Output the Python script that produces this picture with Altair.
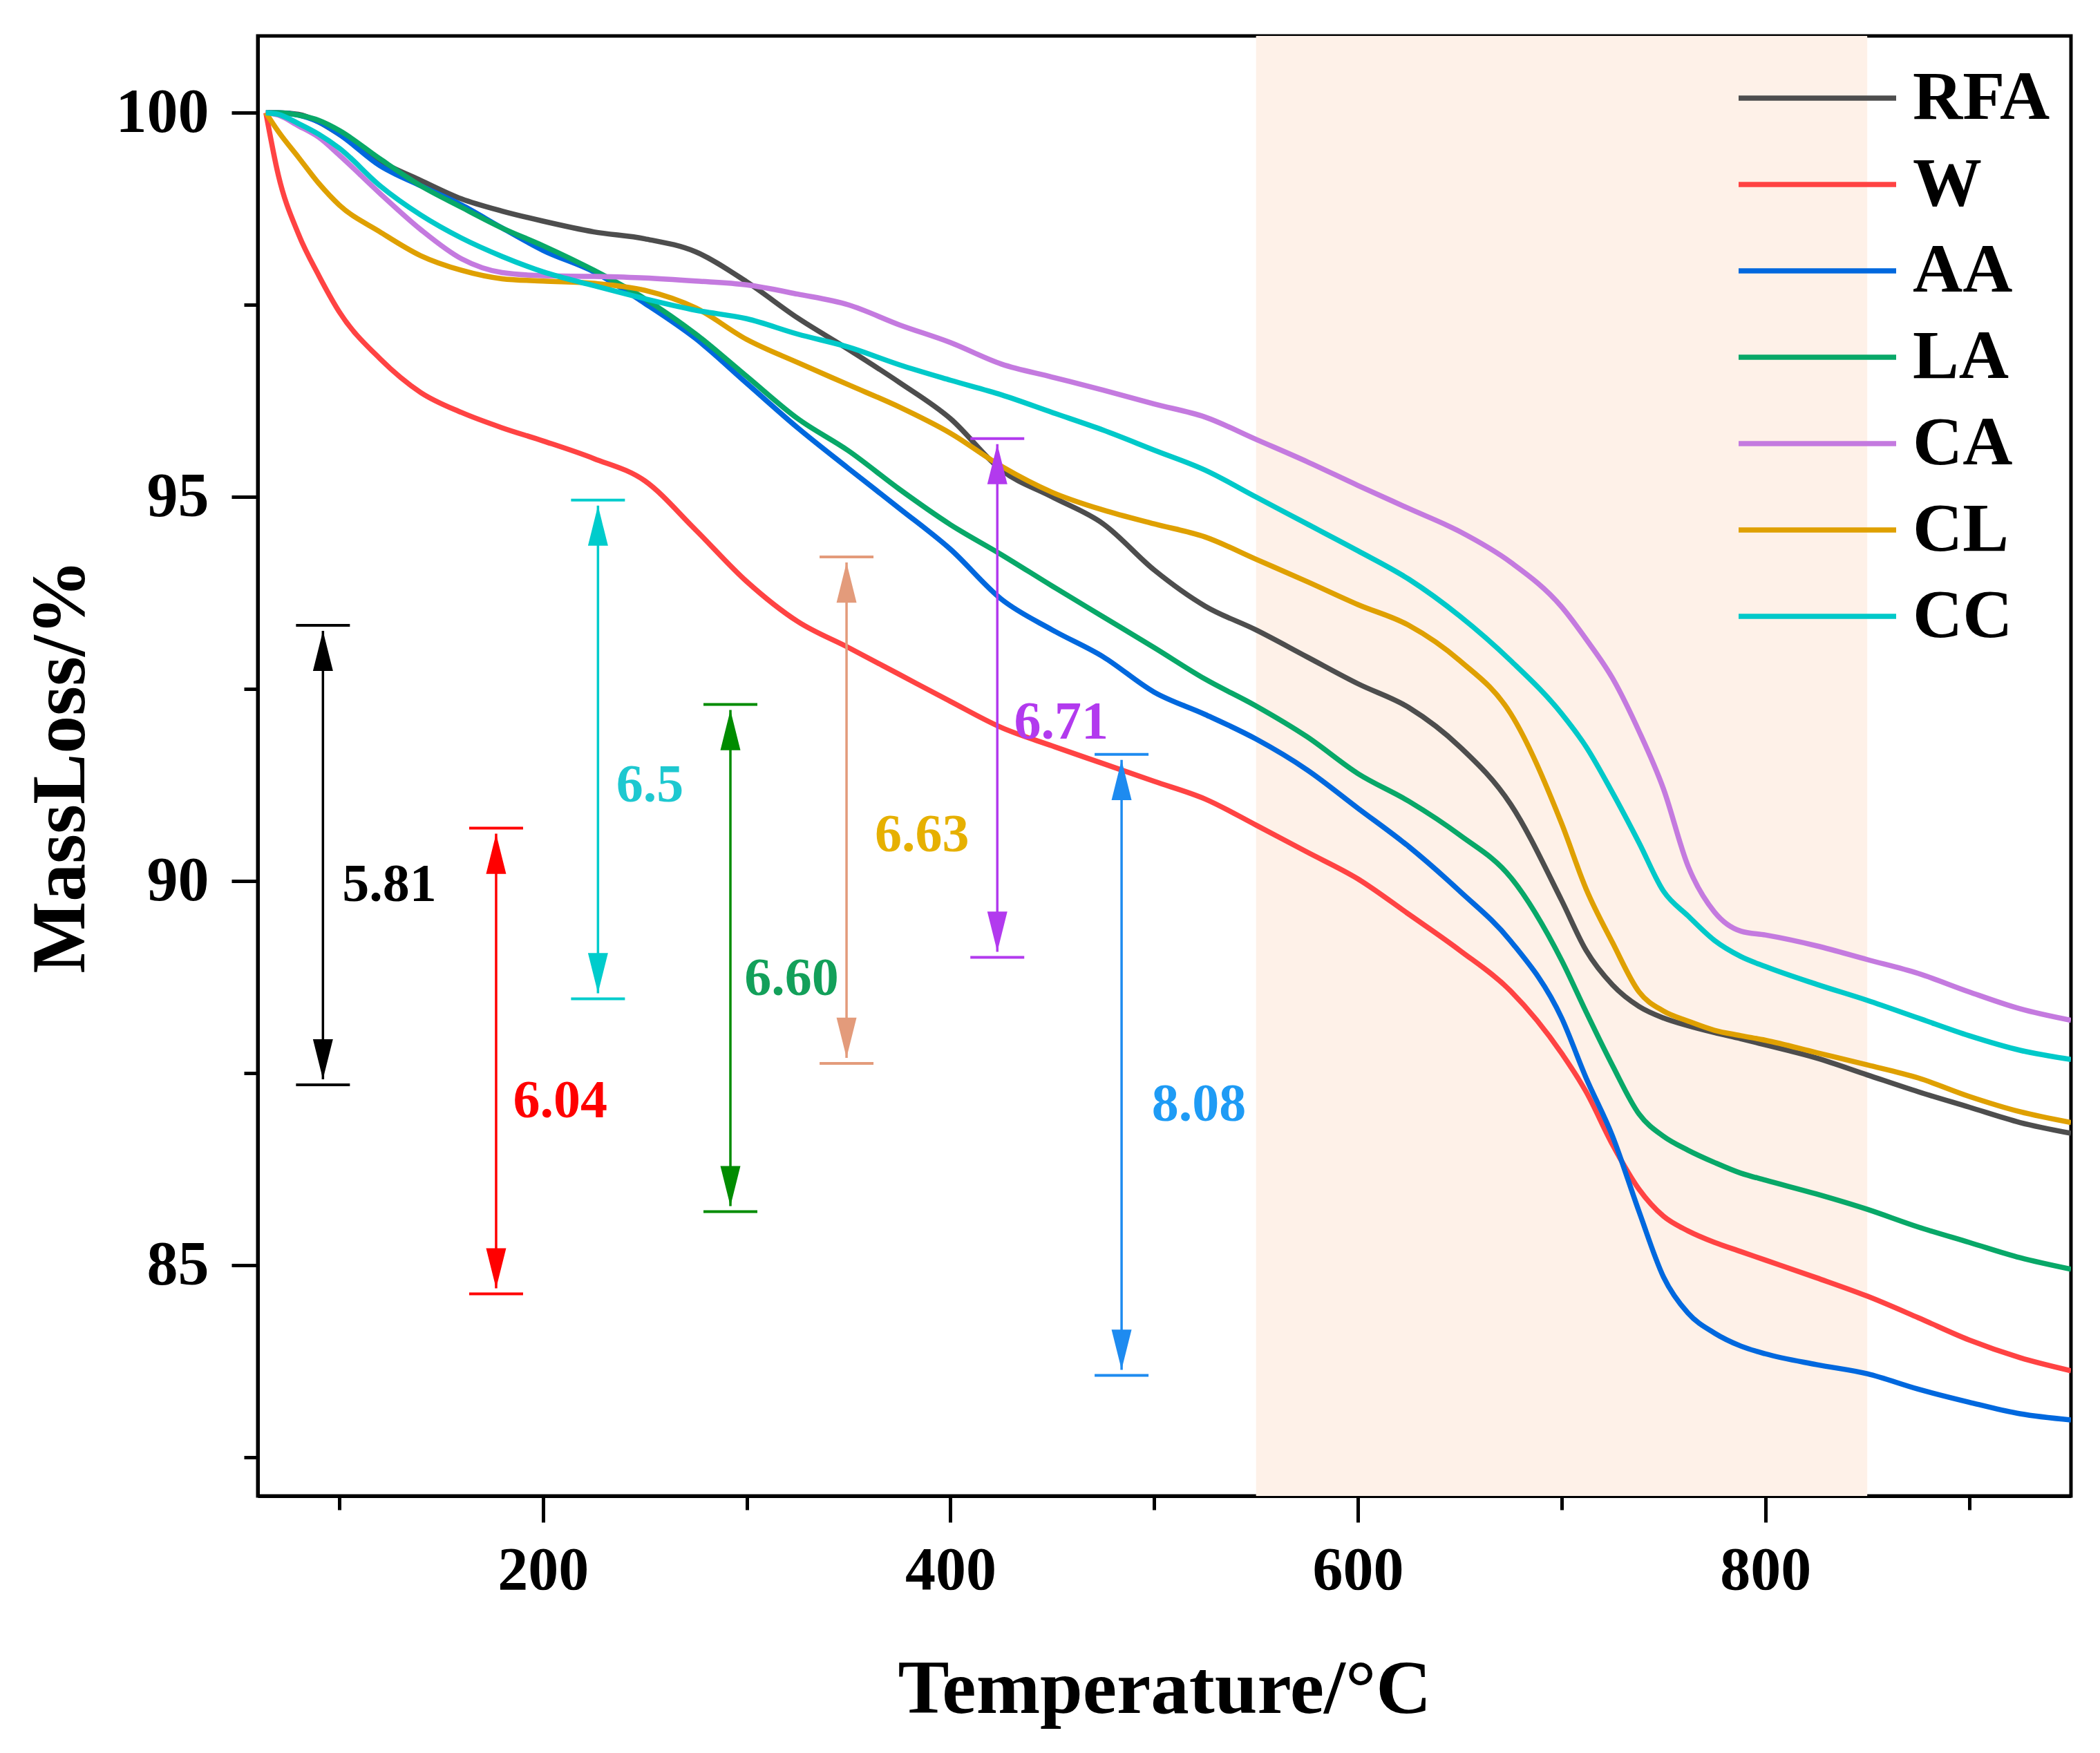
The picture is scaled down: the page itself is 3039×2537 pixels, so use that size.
import altair as alt
import pandas as pd

# ---------------- data ----------------
temps = [64, 70, 80, 90, 100, 120, 140, 160, 180, 200, 225, 250, 275, 300, 325, 350, 375, 400,
         425, 450, 475, 500, 525, 550, 575, 600, 625, 650, 675, 700, 712, 725, 738, 750, 762,
         775, 788, 800, 825, 850, 875, 900, 925, 950]

rfa = [100, 100, 99.98, 99.88, 99.72, 99.37, 99.12, 98.88, 98.72, 98.59, 98.45, 98.36, 98.19, 97.8,
       97.33, 96.92, 96.49, 96.02, 95.35, 95.0, 94.65, 94.05, 93.58, 93.27, 92.92, 92.57, 92.26,
       91.75, 91.0, 89.75, 89.1, 88.65, 88.37, 88.22, 88.12, 88.03, 87.95, 87.87, 87.7, 87.48,
       87.26, 87.06, 86.86, 86.72]
w = [100, 99.2, 98.42, 97.88, 97.41, 96.8, 96.36, 96.1, 95.9, 95.73, 95.5, 95.21, 94.57, 93.9,
     93.38, 93.04, 92.69, 92.34, 92.0, 91.76, 91.53, 91.3, 91.07, 90.73, 90.38, 90.03, 89.57, 89.1,
     88.57, 87.76, 87.26, 86.57, 85.99, 85.64, 85.45, 85.3, 85.18, 85.07, 84.84, 84.6, 84.32,
     84.03, 83.8, 83.63]
aa = [100, 100, 99.97, 99.88, 99.72, 99.31, 99.05, 98.8, 98.5, 98.21, 97.93, 97.52, 97.06, 96.48,
      95.9, 95.37, 94.85, 94.32, 93.67, 93.27, 92.92, 92.46, 92.17, 91.85, 91.45, 90.95, 90.45,
      89.87, 89.22, 88.22, 87.44, 86.68, 85.7, 84.85, 84.38, 84.12, 83.95, 83.85, 83.71, 83.59,
      83.39, 83.22, 83.07, 82.99]
la = [100, 100, 99.97, 99.9, 99.77, 99.4, 99.05, 98.77, 98.5, 98.27, 97.95, 97.58, 97.12, 96.57,
      96.02, 95.6, 95.1, 94.64, 94.25, 93.84, 93.44, 93.04, 92.63, 92.28, 91.88, 91.4, 91.04,
      90.6, 90.05, 88.97, 88.3, 87.6, 86.97, 86.68, 86.5, 86.34, 86.2, 86.11, 85.93, 85.73, 85.5,
      85.3, 85.1, 84.95]
ca = [100, 99.97, 99.83, 99.68, 99.45, 98.95, 98.48, 98.1, 97.92, 97.88, 97.87, 97.85, 97.81, 97.76,
      97.64, 97.5, 97.24, 97.01, 96.73, 96.56, 96.39, 96.21, 96.04, 95.75, 95.46, 95.15, 94.85,
      94.55, 94.15, 93.57, 93.15, 92.64, 91.95, 91.2, 90.2, 89.6, 89.35, 89.3, 89.16, 88.98, 88.8,
      88.56, 88.34, 88.19]
cl = [100, 99.76, 99.42, 99.08, 98.8, 98.45, 98.14, 97.95, 97.84, 97.81, 97.78, 97.69, 97.46, 97.05,
      96.75, 96.46, 96.17, 95.83, 95.4, 95.06, 94.83, 94.65, 94.48, 94.19, 93.9, 93.6, 93.33,
      92.87, 92.18, 90.75, 89.9, 89.2, 88.56, 88.31, 88.18, 88.06, 87.99, 87.93, 87.77, 87.61,
      87.44, 87.2, 87.0, 86.86]
cc = [100, 99.98, 99.86, 99.72, 99.54, 99.05, 98.67, 98.37, 98.13, 97.93, 97.75, 97.58, 97.43, 97.32,
      97.12, 96.95, 96.72, 96.52, 96.33, 96.1, 95.87, 95.61, 95.35, 95.0, 94.65, 94.3, 93.93,
      93.45, 92.87, 92.18, 91.75, 91.15, 90.5, 89.87, 89.55, 89.23, 89.02, 88.89, 88.66, 88.45,
      88.22, 87.99, 87.8, 87.68]

series_names = ["RFA", "W", "AA", "LA", "CA", "CL", "CC"]
series_values = [rfa, w, aa, la, ca, cl, cc]
series_colors = ["#4D4D4D", "#FF4343", "#0068DE", "#08A868", "#C47ADF", "#DFA000", "#00C9C9"]

shade_start = [550]
shade_end = [850]

ann_labels = ["5.81", "6.04", "6.5", "6.60", "6.63", "6.71", "8.08"]
ann_x = [92, 177, 227, 292, 349, 423, 484]
ann_top = [93.33, 90.69, 94.96, 92.30, 94.22, 95.76, 91.65]
ann_bottom = [87.35, 84.63, 88.47, 85.70, 87.63, 89.01, 83.57]
ann_arrow_colors = ["#000000", "#FF0000", "#00CCCC", "#008C00", "#E39B7B", "#B23AEE", "#1E8BF0"]
ann_text_x = [124.6, 208.5, 252.5, 322, 386, 454.4, 522]
ann_text_y = [89.95, 87.13, 91.24, 88.73, 90.6, 92.06, 87.09]
ann_text_colors = ["#000000", "#FF0000", "#1EC8D0", "#13A05A", "#E6B000", "#B23AEE", "#1E9BF5"]

x_ticks = [100, 200, 300, 400, 500, 600, 700, 800, 900]
y_ticks = [82.5, 85, 87.5, 90, 92.5, 95, 97.5, 100]

# ---------------- layout ----------------
X_DOM = [60, 950]
Y_DOM = [82.0, 101.0]
W_PX = 2624
H_PX = 2113
ppu_y = H_PX / (Y_DOM[1] - Y_DOM[0])
ppu_x = W_PX / (X_DOM[1] - X_DOM[0])
FONT = "Liberation Serif"

rows = []
for name, vals in zip(series_names, series_values):
    for t, v in zip(temps, vals):
        rows.append({"T": t, "M": v, "S": name})
df = pd.DataFrame(rows)

xs = alt.Scale(domain=X_DOM, nice=False, zero=False)
ys = alt.Scale(domain=Y_DOM, nice=False, zero=False)

x_axis = alt.Axis(
    values=x_ticks, format="d",
    tickSize={"condition": {"test": "datum.value % 200 === 0", "value": 38}, "value": 20},
    labelExpr="datum.value % 200 === 0 ? datum.label : ''",
    labelFontSize=88, labelPadding=26, labelFlush=False, labelLimit=0,
    title="Temperature/°C", titleFontSize=111, titleBaseline="alphabetic", titleY=313,
)
y_axis = alt.Axis(
    values=y_ticks, format="d",
    tickSize={"condition": {"test": "datum.value % 5 === 0", "value": 38}, "value": 20},
    labelExpr="datum.value % 5 === 0 ? datum.label : ''",
    labelFontSize=90, labelPadding=33, labelFlush=False, labelLimit=0,
    title="MassLoss/%", titleFontSize=110, titleBaseline="alphabetic", titleX=-252,
)

shade = alt.Chart(pd.DataFrame({"a": shade_start, "b": shade_end})).mark_rect(
    color="#FEF1E8"
).encode(
    x=alt.X("a:Q", scale=xs, axis=x_axis),
    x2="b:Q",
)

lines = alt.Chart(df).mark_line(strokeWidth=7.5, interpolate="monotone", clip=True).encode(
    x=alt.X("T:Q", scale=xs, axis=x_axis),
    y=alt.Y("M:Q", scale=ys, axis=y_axis),
    color=alt.Color(
        "S:N",
        scale=alt.Scale(domain=series_names, range=series_colors),
        sort=series_names,
        legend=alt.Legend(
            title=None, orient="none", legendX=2207, legendY=40,
            symbolType="M-4,0H4", symbolSize=3249, symbolStrokeWidth=7.5,
            symbolFillColor="transparent",
            labelFont=FONT, labelFontWeight="bold", labelFontSize=100, labelColor="black",
            labelOffset=88, rowPadding=25, padding=0, labelLimit=0,
        ),
    ),
    order=alt.Order("T:Q"),
)

# annotation frames
cap_half = 39 / ppu_x
gap = 8 / ppu_y
caps_rows = []
for i in range(len(ann_labels)):
    for v in (ann_top[i], ann_bottom[i]):
        caps_rows.append({"lo": ann_x[i] - cap_half, "hi": ann_x[i] + cap_half, "v": v,
                          "c": ann_arrow_colors[i]})
caps_df = pd.DataFrame(caps_rows)
ann_df = pd.DataFrame({
    "x": ann_x, "top": ann_top, "bot": ann_bottom, "c": ann_arrow_colors,
    "top_in": [t - gap for t in ann_top], "bot_in": [b + gap for b in ann_bottom],
})
txt_df = pd.DataFrame({"x": ann_text_x, "y": ann_text_y, "t": ann_labels, "c": ann_text_colors})

caps = alt.Chart(caps_df).mark_rule(strokeWidth=4).encode(
    x=alt.X("lo:Q", scale=xs), x2="hi:Q", y=alt.Y("v:Q", scale=ys),
    color=alt.Color("c:N", scale=None),
)
shafts = alt.Chart(ann_df).mark_rule(strokeWidth=3.5).encode(
    x=alt.X("x:Q", scale=xs), y=alt.Y("bot_in:Q", scale=ys), y2="top_in:Q",
    color=alt.Color("c:N", scale=None),
)
head_up = alt.Chart(ann_df).mark_point(
    shape="M0,0.28L0.5,2.28L-0.5,2.28Z", filled=True, size=3364, opacity=1, strokeWidth=0
).encode(
    x=alt.X("x:Q", scale=xs), y=alt.Y("top:Q", scale=ys), color=alt.Color("c:N", scale=None),
)
head_down = alt.Chart(ann_df).mark_point(
    shape="M0,-0.28L0.5,-2.28L-0.5,-2.28Z", filled=True, size=3364, opacity=1, strokeWidth=0
).encode(
    x=alt.X("x:Q", scale=xs), y=alt.Y("bot:Q", scale=ys), color=alt.Color("c:N", scale=None),
)
texts = alt.Chart(txt_df).mark_text(
    font=FONT, fontWeight="bold", fontSize=78, align="center", baseline="middle"
).encode(
    x=alt.X("x:Q", scale=xs), y=alt.Y("y:Q", scale=ys), text="t:N",
    color=alt.Color("c:N", scale=None),
)

chart = alt.layer(shade, lines, shafts, caps, head_up, head_down, texts).properties(
    width=W_PX, height=H_PX,
    autosize=alt.AutoSizeParams(type="none"),
    padding={"left": 365, "top": 44, "right": 30, "bottom": 360},
    background="white",
).configure_view(
    stroke="black", strokeWidth=5
).configure_axis(
    domainColor="black", domainWidth=5, tickColor="black", tickWidth=5, grid=False,
    labelFont=FONT, labelFontWeight="bold", labelColor="black",
    titleFont=FONT, titleFontWeight="bold", titleColor="black",
)

chart.save("out.html", embed_options={"renderer": "svg", "actions": False})
